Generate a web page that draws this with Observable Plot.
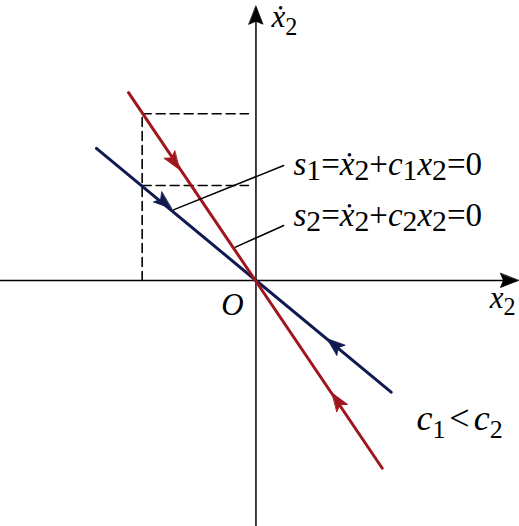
<!DOCTYPE html>
<html><head><meta charset="utf-8">
<script src="https://cdn.jsdelivr.net/npm/d3@7"></script>
<script src="https://cdn.jsdelivr.net/npm/@observablehq/plot@0.6"></script>
<style>body{margin:0;background:#fff}</style>
</head><body><div id="chart"></div>
<script>
// ---- data (x2, x2-dot) in plot units ----
const s2Line = [[-1.12, 1.65], [1.11, -1.65]];      // s2 = x2dot + c2 x2 = 0 (steeper, red)
const s1Line = [[-1.402, 1.16], [1.188, -0.982]];   // s1 = x2dot + c1 x2 = 0 (blue)
const xAxisLine = [[-2.25, 0], [2.29, 0]];
const yAxisLine = [[0, -2.17], [0, 2.39]];
const dashV = [[-1, 0], [-1, 1.465]];
const dashTop = [[-1, 1.465], [-0.066, 1.465]];
const dashMid = [[-1, 0.835], [-0.066, 0.835]];
const leaderS1 = [[0.244, 1.01], [-0.725, 0.62]];
const leaderS2 = [[0.244, 0.483], [-0.18, 0.293]];
const s2Arrows = [[-0.673, 0.975, 1], [0.67, -0.99, -1]];   // x, y, direction along line
const s1Arrows = [[-0.743, 0.633, 1], [0.626, -0.512, -1]];
const axisArrows = [[2.307, 0, 90], [0, 2.41, 0]];          // x, y, rotation
const labelS1 = [[0.330, 0.923, "s_1=ẋ_2+c_1x_2=0"]];
const labelS2 = [[0.330, 0.475, "s_2=ẋ_2+c_2x_2=0"]];
const labelC = [[1.410, -1.318, "c_1<c_2"]];
const labelO = [[-0.2065, -0.3076, "O"]];
const labelX = [[2.055, -0.246, "x_2"]];
const labelY = [[0.136, 2.223, "ẋ_2"]];

const RED = "#a0161d", BLUE = "#111a50", FONT = "Liberation Serif";

const angleOf = (line, dir) => {
  const dx = (line[1][0] - line[0][0]) * dir, dy = (line[1][1] - line[0][1]) * dir;
  return Math.atan2(dx, dy) * 180 / Math.PI;
};
const head = (w, notch) => ({draw(ctx, l) {
  ctx.moveTo(0, -l); ctx.lineTo(w / 2, 0); ctx.lineTo(0, -notch);
  ctx.lineTo(-w / 2, 0); ctx.closePath();
}});

const lineMark = (d, o) => Plot.line(d, {x: p => p[0], y: p => p[1], ...o});
const txt = (d, o) => Plot.text(d, {x: p => p[0], y: p => p[1], text: p => p[2], fontFamily: FONT,
  lineAnchor: "bottom", textAnchor: "start", fill: "#000", ...o});

const chart = Plot.plot({
  width: 519, height: 526, margin: 0,
  style: {background: "#fff"},
  x: {domain: [-2.245, 2.316], axis: null},
  y: {domain: [-2.162, 2.460], axis: null},
  marks: [
    lineMark(xAxisLine, {stroke: "#000", strokeWidth: 1.5}),
    lineMark(yAxisLine, {stroke: "#000", strokeWidth: 1.5}),
    Plot.vector(axisArrows, {x: p => p[0], y: p => p[1], rotate: p => p[2], length: 18, anchor: "end",
      shape: head(14, 3), fill: "#000", stroke: "#000", strokeWidth: 0.8}),
    lineMark(dashV, {stroke: "#000", strokeWidth: 1.6, strokeDasharray: "9,5"}),
    lineMark(dashTop, {stroke: "#000", strokeWidth: 1.6, strokeDasharray: "9,5"}),
    lineMark(dashMid, {stroke: "#000", strokeWidth: 1.6, strokeDasharray: "9,5"}),
    lineMark(s1Line, {stroke: BLUE, strokeWidth: 3}),
    lineMark(s2Line, {stroke: RED, strokeWidth: 3}),
    Plot.vector(s1Arrows, {x: p => p[0], y: p => p[1], rotate: p => angleOf(s1Line, p[2]), length: 18, anchor: "end",
      shape: head(13, 4), fill: BLUE, stroke: BLUE, strokeWidth: 0.8}),
    Plot.vector(s2Arrows, {x: p => p[0], y: p => p[1], rotate: p => angleOf(s2Line, p[2]), length: 18, anchor: "end",
      shape: head(13, 4), fill: RED, stroke: RED, strokeWidth: 0.8}),
    lineMark(leaderS1, {stroke: "#000", strokeWidth: 1.5}),
    lineMark(leaderS2, {stroke: "#000", strokeWidth: 1.5}),
    txt(labelS1, {fontSize: 33}),
    txt(labelS2, {fontSize: 33}),
    txt(labelC, {fontSize: 36}),
    txt(labelO, {fontSize: 31, textAnchor: "middle"}),
    txt(labelX, {fontSize: 31}),
    txt(labelY, {fontSize: 31})
  ]
});

// sub-script styling of math labels
const subStyle = {
  "s_1=ẋ_2+c_1x_2=0": {sub: 0.9, shift: 5},
  "s_2=ẋ_2+c_2x_2=0": {sub: 0.9, shift: 5},
  "c_1<c_2": {sub: 0.72, shift: 8, gap: 4},
  "x_2": {sub: 0.78, shift: 7},
  "ẋ_2": {sub: 0.78, shift: 8},
  "O": {sub: 1, shift: 0}
};
d3.select(chart).selectAll("text").each(function () {
  const el = d3.select(this);
  const src = this.textContent;
  const st = subStyle[src];
  if (!st) return;
  const fs = parseFloat(el.attr("font-size")) || parseFloat(d3.select(this.parentNode).attr("font-size")) || 30;
  el.text(null);
  let cur = 0;
  for (let i = 0; i < src.length; i++) {
    let ch = src[i], isSub = false;
    if (ch === "_") { isSub = true; ch = src[++i]; }
    const t = el.append("tspan").text(ch);
    const italic = /[a-zA-Zẋ]/.test(ch);
    t.attr("font-style", italic ? "italic" : "normal");
    const want = isSub ? st.shift : 0;
    if (want !== cur) { t.attr("dy", want - cur); cur = want; }
    if (isSub) t.attr("font-size", fs * st.sub);
    if (ch === "<" && st.gap) t.attr("dx", st.gap);
    if (i > 0 && src[i - 1] === "<" && st.gap) t.attr("dx", st.gap);
  }
});
document.getElementById("chart").appendChild(chart);
</script>
</body></html>
